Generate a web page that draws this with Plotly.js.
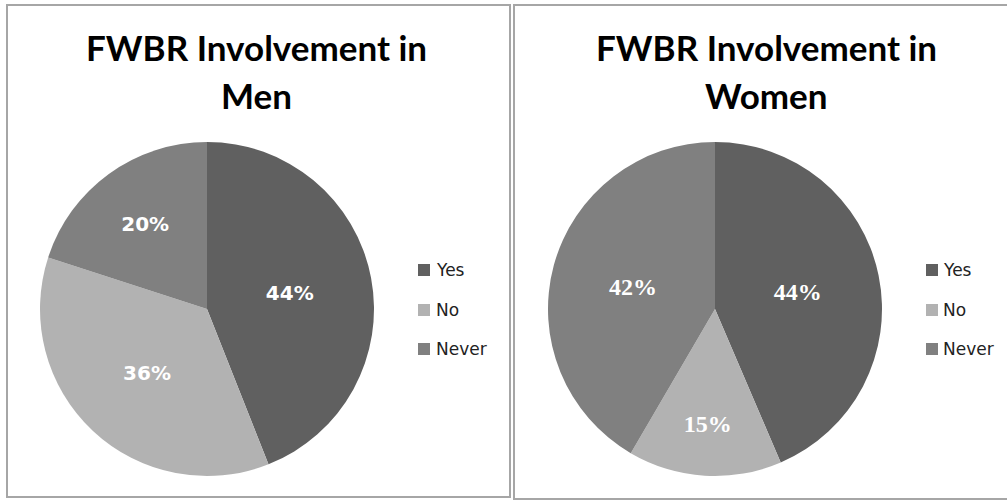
<!DOCTYPE html>
<html><head><meta charset="utf-8">
<script src="https://cdn.plot.ly/plotly-3.0.1.min.js"></script>
<style>html,body{margin:0;padding:0;background:#fff}
.layer{position:absolute;left:0;top:0;width:1007px;height:501px}</style>
</head><body><div id="chart" class="layer"></div><div id="chart2" class="layer"></div>
<script>
const categories = ["Yes", "No", "Never"];
const menValues = [44, 36, 20];
const womenValues = [44, 15, 42];
const titleLine1 = "FWBR Involvement in";
const menTitle = "Men";
const womenTitle = "Women";
const sliceColors = ["#606060", "#b2b2b2", "#808080"];

const W = 1007, H = 501;
const px = x => x / W;
const py = y => 1 - y / H;

const pieCommon = {
  type: "pie", sort: false, direction: "clockwise", rotation: 0,
  marker: {colors: sliceColors, line: {width: 0}},
  textposition: "inside", insidetextorientation: "horizontal",
  texttemplate: "%{value}%", hoverinfo: "label+value", showlegend: false
};
const menFont = {family: "DejaVu Sans", size: 20, color: "#ffffff", weight: "bold"};
const womenFont = {family: "Liberation Serif", size: 24, color: "#ffffff", weight: "bold"};

const menTrace = Object.assign({}, pieCommon, {
  labels: categories, values: menValues, name: menTitle,
  domain: {x: [px(40), px(374)], y: [py(476), py(142)]},
  textfont: menFont, insidetextfont: menFont
});
const womenTrace = Object.assign({}, pieCommon, {
  labels: categories, values: womenValues, name: womenTitle,
  domain: {x: [px(548), px(882)], y: [py(476), py(142)]},
  textfont: womenFont, insidetextfont: womenFont
});

const shapes = [
  {type: "rect", xref: "paper", yref: "paper", x0: px(7), x1: px(510), y0: py(497), y1: py(5),
   line: {color: "#a6a6a6", width: 2}, fillcolor: "rgba(0,0,0,0)"},
  {type: "rect", xref: "paper", yref: "paper", x0: px(514), x1: px(1012), y0: py(499), y1: py(5),
   line: {color: "#a6a6a6", width: 2}, fillcolor: "rgba(0,0,0,0)"}
];
const annotations = [];
const titleFont = {family: "Lato", size: 35, color: "#000000", weight: "bold"};
[[256, menTitle], [766, womenTitle]].forEach(([cx, t]) => {
  annotations.push({xref: "paper", yref: "paper", x: px(cx), y: py(47), text: titleLine1,
    showarrow: false, xanchor: "center", yanchor: "middle", font: titleFont});
  annotations.push({xref: "paper", yref: "paper", x: px(cx), y: py(95), text: t,
    showarrow: false, xanchor: "center", yanchor: "middle", font: titleFont});
});
// legends
const legendRows = [270, 310, 349];
[[418, 434], [926, 941]].forEach(([mx, tx]) => {
  categories.forEach((c, i) => {
    const yc = legendRows[i];
    shapes.push({type: "rect", xref: "paper", yref: "paper",
      x0: px(mx), x1: px(mx + 12), y0: py(yc + 6), y1: py(yc - 6),
      line: {width: 0}, fillcolor: sliceColors[i]});
    annotations.push({xref: "paper", yref: "paper", x: px(tx), y: py(yc), text: c,
      showarrow: false, xanchor: "left", yanchor: "middle",
      font: {family: "DejaVu Sans", size: 17, color: "#222222"}});
  });
});

const layout = {
  width: W, height: H, margin: {l: 0, r: 0, t: 0, b: 0},
  paper_bgcolor: "#ffffff", showlegend: false,
  shapes: shapes, annotations: annotations
};
const layout2 = {
  width: W, height: H, margin: {l: 0, r: 0, t: 0, b: 0},
  paper_bgcolor: "rgba(0,0,0,0)", plot_bgcolor: "rgba(0,0,0,0)", showlegend: false
};
Plotly.newPlot("chart", [menTrace], layout, {displayModeBar: false, staticPlot: true});
Plotly.newPlot("chart2", [womenTrace], layout2, {displayModeBar: false, staticPlot: true});
</script></body></html>
